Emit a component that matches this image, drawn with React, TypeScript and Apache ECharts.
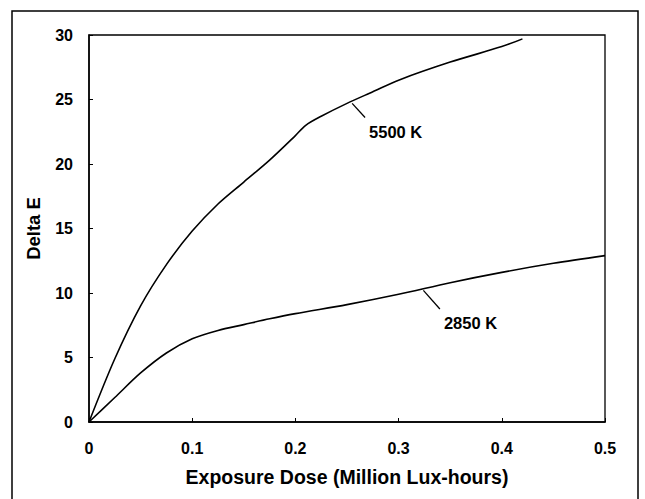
import React, { useEffect, useRef } from "react";
import * as echarts from "echarts";

const dose5500 = [0, 0.025, 0.05, 0.075, 0.1, 0.125, 0.15, 0.175, 0.2, 0.21, 0.225, 0.25, 0.275, 0.3, 0.35, 0.4, 0.42];
const delta5500 = [0, 4.9, 9.0, 12.2, 14.8, 16.9, 18.6, 20.3, 22.2, 23.0, 23.7, 24.7, 25.6, 26.5, 27.9, 29.1, 29.7];

const dose2850 = [0, 0.025, 0.05, 0.075, 0.1, 0.125, 0.15, 0.175, 0.2, 0.25, 0.3, 0.35, 0.4, 0.45, 0.5];
const delta2850 = [0, 1.9, 3.8, 5.35, 6.45, 7.1, 7.55, 8.0, 8.4, 9.1, 9.9, 10.8, 11.6, 12.3, 12.9];

const label5500 = "5500 K";
const pointer5500 = [[0.255, 24.7], [0.2675, 23.6]];
const label2850 = "2850 K";
const pointer2850 = [[0.324, 10.2], [0.34, 8.76]];

const FONT = "'Liberation Sans', Arial, sans-serif";

function pairs(xs: number[], ys: number[]) {
  return xs.map((x, i) => [x, ys[i]]);
}

function pointerSeries(pts: number[][], text: string) {
  return {
    type: "line",
    data: [
      { value: pts[0], symbolSize: 0 },
      {
        value: pts[1],
        symbolSize: 0,
        label: {
          show: true,
          formatter: text,
          position: [4, 14],
          align: "left",
          verticalAlign: "middle",
          color: "#000",
          fontFamily: FONT,
          fontWeight: "bold",
          fontSize: 16.5,
        },
      },
    ],
    symbol: "circle",
    showSymbol: true,
    lineStyle: { color: "#000", width: 1.3 },
    itemStyle: { color: "#000" },
    silent: true,
    z: 3,
  };
}

export default function App() {
  const ref = useRef<HTMLDivElement>(null);
  useEffect(() => {
    if (!ref.current) return;
    const chart = echarts.init(ref.current, null, { renderer: "svg" });
    chart.setOption({
      animation: false,
      backgroundColor: "#fff",
      textStyle: { fontFamily: FONT },
      graphic: [
        {
          type: "rect",
          shape: { x: 12, y: 11, width: 626, height: 520 },
          style: { fill: "none", stroke: "#000", lineWidth: 1.5 },
          silent: true,
        },
      ],
      grid: {
        left: 89,
        right: 40,
        top: 35,
        bottom: 77,
        show: true,
        borderColor: "#000",
        borderWidth: 1.3,
        backgroundColor: "transparent",
      },
      xAxis: {
        type: "value",
        min: 0,
        max: 0.5,
        interval: 0.1,
        name: "Exposure Dose (Million Lux-hours)",
        nameLocation: "middle",
        nameGap: 45,
        nameTextStyle: { color: "#000", fontFamily: FONT, fontWeight: "bold", fontSize: 19.5 },
        axisLine: { show: true, lineStyle: { color: "#000", width: 1.5 } },
        axisTick: { show: true, inside: true, length: 4, lineStyle: { color: "#000", width: 1 } },
        axisLabel: {
          color: "#000",
          fontFamily: FONT,
          fontWeight: "bold",
          fontSize: 16,
          margin: 18,
          formatter: (v: number) => String(Math.round(v * 10) / 10),
        },
        splitLine: { show: false },
      },
      yAxis: {
        type: "value",
        min: 0,
        max: 30,
        interval: 5,
        name: "Delta E",
        nameLocation: "middle",
        nameGap: 46,
        nameTextStyle: { color: "#000", fontFamily: FONT, fontWeight: "bold", fontSize: 18.5 },
        axisLine: { show: true, lineStyle: { color: "#000", width: 1.5 } },
        axisTick: { show: true, inside: true, length: 4, lineStyle: { color: "#000", width: 1 } },
        axisLabel: {
          color: "#000",
          fontFamily: FONT,
          fontWeight: "bold",
          fontSize: 16,
          margin: 16,
        },
        splitLine: { show: false },
      },
      series: [
        {
          type: "line",
          data: pairs(dose5500, delta5500),
          smooth: 0.3,
          showSymbol: false,
          lineStyle: { color: "#000", width: 1.6 },
          itemStyle: { color: "#000" },
          silent: true,
          z: 2,
        },
        {
          type: "line",
          data: pairs(dose2850, delta2850),
          smooth: 0.3,
          showSymbol: false,
          lineStyle: { color: "#000", width: 1.6 },
          itemStyle: { color: "#000" },
          silent: true,
          z: 2,
        },
        pointerSeries(pointer5500, label5500),
        pointerSeries(pointer2850, label2850),
      ],
    });
    return () => chart.dispose();
  }, []);
  return <div ref={ref} style={{ width: 645, height: 499, position: "absolute", left: 0, top: 0 }} />;
}
